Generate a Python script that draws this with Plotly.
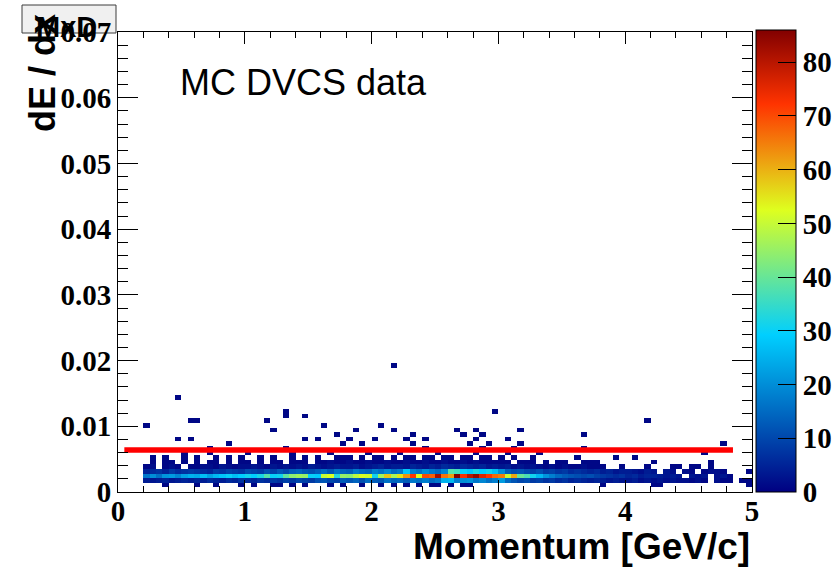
import numpy as np
import plotly.graph_objects as go

# ---- binning of the 2D histogram (momentum x dE/dx) ----
n_xbins, x_lo, x_hi = 100, 0.0, 5.0
n_ybins, y_lo, y_hi = 100, 0.0, 0.07
first_xbin = 4          # the dense rows start at 0.2 GeV/c

# ---- counts of the dense band, one list per dE/dx bin (x bins 4..99) ----
row1 = [0,0,0,1,0,0,0,0, 1,0,0,1,0,0,0,1, 0,1,0,0,1,1,0,1, 0,1,0,0,0,1,0,1,
        0,0,1,0,0,1,0,1, 0,1,0,1,0,1,1,0, 1,0,1,1,0,0,0,0, 0,0,0,0,0,0,0,0,
        0,0,0,0,0,0,0,0, 1,0,0,0,0,0,0,0, 1,1,0,0,0,0,0,0, 0,0,0,0,0,0,0,1]
row2 = [4,3,4,5,3,4,5,4, 5,4,6,5,4,6,5,7, 6,5,7,6,8,7,9,8, 10,9,8,11,12,10,9,13,
        12,14,11,15,13,12,16,14, 15,13,17,16,18,15,17,25, 26,18,20,21,17,19,16,18,
        22,15,12,10,11,8,9,7, 8,6,7,5,6,5,4,5, 4,3,4,3,3,4,2,3,
        2,3,2,3,2,2,1,2, 1,0,2,1,1,0,1,1]
row3 = [17,20,16,21,22,19,23,25, 24,27,23,26,28,30,27,29, 31,29,32,38,30,31,39,44,
        46,45,30,29,50,52,33,45, 44,49,52,51,31,46,58,47, 55,63,72,53,70,68,82,66,
        62,86,73,80,84,76,72,67, 65,50,61,40,37,31,26,21, 18,15,13,12,11,10,11,9,
        8,7,6,7,5,6,4,5, 5,4,3,4,3,0,3,2, 3,0,2,3,1,0,0,0]
row4 = [5,6,7,5,8,6,7,8, 7,6,5,8,7,9,8,7, 10,9,8,11,9,12,10,13, 14,12,11,13,15,12,16,14,
        13,17,15,14,18,16,19,15, 17,28,18,16,20,17,15,19, 38,36,30,28,32,29,31,27,
        20,13,11,12,10,9,11,8, 9,7,8,6,7,6,5,6, 4,5,3,4,4,3,2,4,
        3,0,3,2,0,2,1,0, 1,2,2,1,0,0,0,1]
row5 = [1,2,0,1,2,1,0,1, 1,2,2,1,3,2,1,2, 2,3,2,1,3,2,3,2, 3,2,4,3,2,3,4,3,
        3,4,2,3,4,5,3,4, 4,3,5,4,3,5,4,6, 5,4,6,5,4,5,3,4, 3,4,2,3,2,3,2,1,
        2,1,2,1,1,2,1,1, 1,0,0,1,0,0,0,1, 0,0,0,1,1,0,1,1, 0,1,0,0,0,0,0,0]
row6 = [0,1,0,1,1,0,1,0, 1,0,1,1,0,1,0,1, 1,0,1,0,1,1,0,1, 1,1,0,1,1,2,1,1,
        2,1,1,2,1,1,2,1, 1,2,1,1,2,1,1,2, 1,1,2,1,2,1,1,1, 1,1,0,1,1,1,0,1,
        0,1,1,0,0,1,1,1, 0,0,0,0,0,0,0,0, 1,0,0,0,0,0,0,0, 0,1,0,0,0,0,0,0]
row7 = [0,1,0,1,0,0,1,0, 1,0,0,1,0,1,0,1, 0,0,1,0,1,0,0,1, 0,1,0,1,0,0,1,1,
        1,0,1,0,1,1,0,1, 0,1,1,0,1,1,0,1, 1,0,1,1,0,1,1,0, 1,0,1,0,0,1,0,0,
        0,0,0,0,1,0,0,0, 0,0,1,0,0,1,0,0, 0,0,0,0,0,0,0,0, 0,0,0,0,0,0,0,0]
row8 = [0,0,0,0,0,0,1,0, 0,0,1,0,0,0,0,0, 1,0,0,0,0,0,0,1, 0,0,0,0,0,1,0,0,
        0,0,0,1,0,0,0,0, 1,0,0,0,0,0,1,0, 0,0,0,0,1,0,0,0, 0,1,0,0,0,0,1,0,
        0,0,0,0,0,0,0,0, 0,0,0,0,0,0,0,0, 0,0,0,0,0,0,0,0, 1,0,0,0,0,0,0,0]

# ---- isolated single entries above the band (momentum, dE/dx) ----
outlier_p = [0.225, 0.475, 0.475, 0.575, 0.575, 0.625, 0.875, 0.725, 1.175, 1.225,
             1.325, 1.325, 1.325, 1.475, 1.475, 1.575, 1.625, 1.725, 1.775, 1.825,
             1.875, 1.925, 2.025, 2.075, 2.175, 2.175, 2.275, 2.325, 2.325, 2.425,
             2.425, 2.675, 2.725, 2.775, 2.825, 2.825, 2.875, 2.875, 2.925, 2.975,
             3.075, 3.125, 3.175, 3.175, 3.675, 3.675, 4.175, 4.775]
outlier_dedx = [0.01015, 0.01435, 0.00805, 0.00805, 0.01085, 0.01085, 0.00735, 0.00665, 0.01085, 0.00945,
                0.01155, 0.01225, 0.00665, 0.01155, 0.00805, 0.00805, 0.01015, 0.00875, 0.00735, 0.00805,
                0.00945, 0.00735, 0.00805, 0.01015, 0.01925, 0.00945, 0.00805, 0.00875, 0.00735, 0.00805,
                0.00665, 0.00945, 0.00875, 0.00735, 0.00945, 0.00805, 0.00875, 0.00665, 0.00735, 0.01225,
                0.00805, 0.00665, 0.00945, 0.00735, 0.00875, 0.00665, 0.01085, 0.00735]

# ---- cut line ----
cut_p = [0.05, 4.85]
cut_dedx = [0.0064, 0.0064]

# ---- axis tick labels ----
x_ticks = [0, 1, 2, 3, 4, 5]
y_ticks = [0, 0.01, 0.02, 0.03, 0.04, 0.05, 0.06, 0.07]
y_ticktext = ["0", "0.01", "0.02", "0.03", "0.04", "0.05", "0.06", "0.07"]
z_ticks = [0, 10, 20, 30, 40, 50, 60, 70, 80]
z_max = 86

# ---- build the histogram ----
dx = (x_hi - x_lo) / n_xbins
dy = (y_hi - y_lo) / n_ybins
n_rows_used = 30
counts = np.zeros((n_rows_used, n_xbins))
for r, row in [(1, row1), (2, row2), (3, row3), (4, row4), (5, row5),
               (6, row6), (7, row7), (8, row8)]:
    counts[r, first_xbin:first_xbin + len(row)] += np.array(row)
for p, d in zip(outlier_p, outlier_dedx):
    counts[int(np.floor((d - y_lo) / dy)), int(np.floor((p - x_lo) / dx))] += 1
z = [[(float(v) if v > 0 else None) for v in r] for r in counts]

root_palette = [
    [0.00, "rgb(0,0,130)"],
    [0.34, "rgb(0,207,255)"],
    [0.61, "rgb(222,255,31)"],
    [0.84, "rgb(255,51,0)"],
    [1.00, "rgb(130,0,0)"],
]

W, H = 838, 567
L, R, T, B = 118, 752, 32, 492
pw, ph = R - L, B - T

def px(xp):
    return (xp - L) / pw

def py(yp):
    return (B - yp) / ph

tick_font = dict(family="Liberation Serif", size=29, color="black", weight="bold")

fig = go.Figure()
fig.add_trace(go.Heatmap(
    z=z, x0=x_lo + dx / 2, dx=dx, y0=y_lo + dy / 2, dy=dy,
    zmin=0, zmax=z_max, colorscale=root_palette, zsmooth=False,
    hoverongaps=False,
    colorbar=dict(
        thickness=40, thicknessmode="pixels",
        len=462, lenmode="pixels",
        x=px(756), xanchor="left", xpad=0,
        y=py(30), yanchor="top", ypad=0,
        tickvals=z_ticks, ticks="inside", ticklen=18, tickcolor="black",
        tickfont=tick_font, outlinewidth=1, outlinecolor="black",
    ),
))
fig.add_trace(go.Scatter(x=cut_p, y=cut_dedx, mode="lines",
                         line=dict(color="rgb(255,0,0)", width=5.5),
                         showlegend=False, hoverinfo="skip"))

fig.update_layout(
    width=W, height=H, autosize=False,
    margin=dict(l=L, r=W - R, t=T, b=H - B, pad=0, autoexpand=False),
    paper_bgcolor="white", plot_bgcolor="white",
    showlegend=False,
    xaxis=dict(range=[x_lo, x_hi], tickvals=x_ticks, ticks="inside", ticklen=12,
               tickwidth=1, tickcolor="black", showline=True, linecolor="black",
               linewidth=1, mirror="allticks", showgrid=False, zeroline=False,
               tickfont=tick_font, automargin=False, ticklabelstandoff=-7,
               minor=dict(dtick=0.2, tick0=0, ticks="inside", ticklen=6,
                          tickcolor="black", showgrid=False)),
    yaxis=dict(range=[y_lo, y_hi], tickvals=y_ticks, ticktext=y_ticktext,
               ticks="inside", ticklen=20, tickwidth=1, tickcolor="black",
               showline=True, linecolor="black", linewidth=1, mirror="allticks",
               showgrid=False, zeroline=False, tickfont=tick_font, automargin=False,
               minor=dict(dtick=0.002, tick0=0, ticks="inside", ticklen=10,
                          tickcolor="black", showgrid=False)),
    shapes=[
        dict(type="rect", xref="paper", yref="paper", layer="below",
             x0=px(22), x1=px(116), y0=py(33), y1=py(5),
             fillcolor="rgb(240,240,240)", line=dict(color="rgb(60,60,60)", width=1)),
        dict(type="line", xref="paper", yref="paper", layer="above",
             x0=px(756), x1=px(796), y0=py(399), y1=py(399),
             line=dict(color="white", width=1.5)),
    ],
    annotations=[
        dict(text="MC DVCS data", xref="paper", yref="paper", x=px(178), y=py(82.5),
             xanchor="left", yanchor="middle", showarrow=False,
             font=dict(family="Liberation Sans", size=36, color="black")),
        dict(text="Momentum [GeV/c]", xref="paper", yref="paper", x=1.0, y=py(546),
             xanchor="right", yanchor="middle", showarrow=False,
             font=dict(family="Liberation Sans", size=37, color="black", weight="bold")),
        dict(text="dE / dx", xref="paper", yref="paper", x=px(42), y=py(73),
             xanchor="center", yanchor="middle", showarrow=False, textangle=-90,
             font=dict(family="Liberation Sans", size=36, color="black", weight="bold")),
        dict(text="MxD", xref="paper", yref="paper", x=px(66), y=py(27),
             xanchor="center", yanchor="middle", showarrow=False,
             font=dict(family="Liberation Sans", size=29, color="black", weight="bold")),
    ],
)

fig.write_html("out.html")
